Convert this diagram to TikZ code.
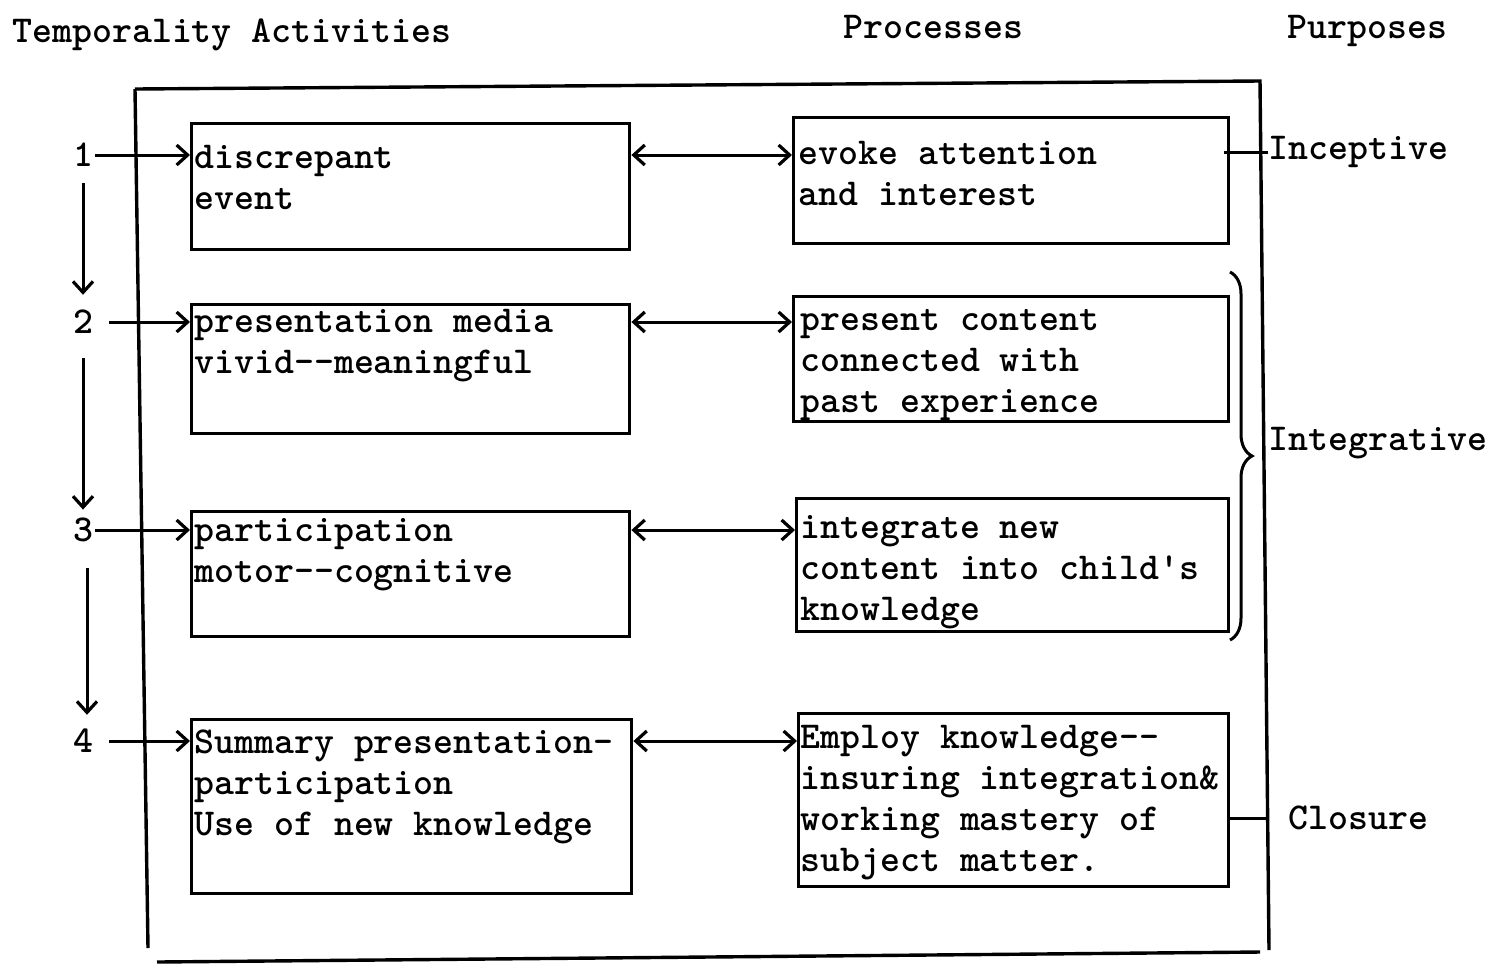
\documentclass[tikz,border=0pt]{standalone}
\usetikzlibrary{arrows.meta,decorations.pathreplacing}

\begin{document}
\begin{tikzpicture}[x=0.5pt,y=-0.5pt]
    \tikzset{
        every node/.style={font=\fontsize{19}{20.5}\selectfont\ttfamily\bfseries},
        box/.style={draw,line width=1.7pt,inner sep=0pt,anchor=north west},
        txt/.style={anchor=north west,inner sep=0pt,align=left,execute at begin node=\strut},
        num/.style={inner sep=1pt},
        barb/.tip={Straight Barb[length=5.5pt,width=10pt,line width=1.6pt]},
        arr/.style={line width=1.5pt,-barb},
        dbl/.style={line width=1.5pt,barb-barb},
        tick/.style={line width=1.5pt}
    };
    \useasboundingbox (0,0) rectangle (1492,965);

    % outer frame
    \draw[line width=1.7pt] (135,89) -- (1260,81) -- (1269,950);
    \draw[line width=1.7pt] (135,89) -- (148,948);
    \draw[line width=1.7pt] (157,962) -- (1260,952);

    % column heads
    \node[anchor=base west,inner sep=0pt] (hTemp) at (12,42) {Temporality Activities};
    \node[anchor=base west,inner sep=0pt] (hProc) at (843,38) {Processes};
    \node[anchor=base west,inner sep=0pt] (hPurp) at (1287,38) {Purposes};

    % activities
    \node[box,minimum width=219pt,minimum height=63pt] (act1) at (190,122) {};
    \node[box,minimum width=219pt,minimum height=64.5pt] (act2) at (190,303) {};
    \node[box,minimum width=219pt,minimum height=62.5pt] (act3) at (190,510) {};
    \node[box,minimum width=220pt,minimum height=87pt] (act4) at (190,718) {};
    \node[txt] (actTxt1) at (194,145) {discrepant\\event};
    \node[txt] (actTxt2) at (194,309) {presentation media\\vivid-{}-meaningful};
    \node[txt] (actTxt3) at (194,518) {participation\\motor-{}-cognitive};
    \node[txt] (actTxt4) at (194,729) {Summary presentation-\\participation\\Use of new knowledge};

    % processes
    \node[box,minimum width=217.5pt,minimum height=63pt] (proc1) at (792,116) {};
    \node[box,minimum width=217.5pt,minimum height=62.5pt] (proc2) at (792,295) {};
    \node[box,minimum width=216pt,minimum height=66.5pt] (proc3) at (795,497) {};
    \node[box,minimum width=215pt,minimum height=86.5pt] (proc4) at (797,712) {};
    \node[txt] (procTxt1) at (798,141) {evoke attention\\and interest};
    \node[txt] (procTxt2) at (800,309) {present content\\connected with\\past experience};
    \node[txt] (procTxt3) at (800,515) {integrate new\\content into child's\\knowledge};
    \node[txt] (procTxt4) at (800,725) {Employ knowledge-{}-\\insuring integration\&\\working mastery of\\subject matter.};

    % steps
    \node[num] (n1) at (83,155) {1};
    \node[num] (n2) at (83,322) {2};
    \node[num] (n3) at (83,530) {3};
    \node[num] (n4) at (83,741) {4};
    \draw[arr] (n1.east) -- (n1.east -| act1.west);
    \draw[arr,shorten <=7pt] (n2.east) -- (n2.east -| act2.west);
    \draw[arr] (n3.east) -- (n3.east -| act3.west);
    \draw[arr,shorten <=7pt] (n4.east) -- (n4.east -| act4.west);
    \draw[arr,shorten <=7pt,shorten >=6.5pt] (n1.south) -- (n2.north);
    \draw[arr,shorten <=11pt,shorten >=3pt] (n2.south) -- (n3.north);
    \draw[arr,shorten <=12pt,shorten >=6pt] ([xshift=2pt]n3.south) -- ([xshift=2pt]n4.north);

    % activity <-> process
    \foreach \i in {1,...,4}{
        \draw[dbl] (act\i.east |- n\i) -- (proc\i.west |- n\i);
    }

    % purposes
    \node[anchor=west,inner sep=0pt] (incep) at (1268,152) {Inceptive};
    \node[anchor=west,inner sep=0pt] (integ) at (1268,443) {Integrative};
    \node[anchor=west,inner sep=0pt] (closu) at (1288,818) {Closure};
    \draw[tick] ([xshift=-3pt]incep.west -| proc1.east) -- (incep.west);
    \draw[tick,shorten >=10pt] (closu.west -| proc4.east) -- (closu.west);
    \coordinate (bTop) at (1230,272);
    \coordinate (bBot) at (1230,640);
    \draw[line width=1.5pt,decorate,decoration={brace,amplitude=11pt}] (bTop) -- (bBot);
\end{tikzpicture}
\end{document}
